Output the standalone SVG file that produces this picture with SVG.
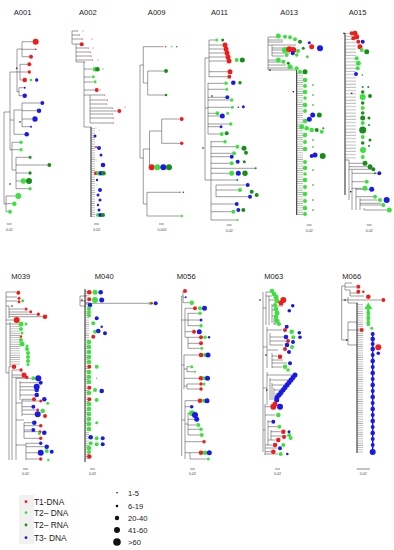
<svg xmlns="http://www.w3.org/2000/svg" width="394" height="550" viewBox="0 0 394 550">
<defs>
<style>
.t{fill:none;stroke:#3a3a3a;stroke-width:0.5}
.sp{fill:none;stroke:#222;stroke-width:1}
.r{fill:#f01c1c}.g{fill:#3ee03e}.d{fill:#178e17}.b{fill:#1a1ae8}.k{fill:#111}
.ti{font-family:"Liberation Sans",Arial,sans-serif;font-size:7.6px;fill:#222;text-anchor:middle}
.sc{font-family:"Liberation Sans",Arial,sans-serif;font-size:3.6px;fill:#444;text-anchor:middle}
.sb{stroke:#333;stroke-width:0.6}
.lg{font-family:"Liberation Sans",Arial,sans-serif;font-size:8.4px;fill:#222}
.ls{font-family:"Liberation Sans",Arial,sans-serif;font-size:7.6px;fill:#222}
</style>
<pattern id="comb" width="10" height="2.2" patternUnits="userSpaceOnUse"><line x1="0" y1="1" x2="10" y2="1" stroke="#555" stroke-width="0.45"/></pattern>
<pattern id="comb3" width="10" height="3.2" patternUnits="userSpaceOnUse"><line x1="0" y1="1" x2="10" y2="1" stroke="#555" stroke-width="0.45"/></pattern>
</defs>
<rect width="394" height="550" fill="#fff"/>

<g id="A001">
<text class="ti" x="22.5" y="14.5">A001</text>
<path class="t" d="M4 112V204M4 112H10M10 72V150M10 72H17M17 49V92M17 49H22M22 41.7V56.7M22 41.7H33M22 49.3H34.7M22 56.7H29M17 72H20M20 64.3V80M20 64.3H27.3M20 72H27.6M20 80H22.4M17 91.7H19M19 87.7V95.7M19 87.7H23.7M19 95.7H22.4M10 120H14M14 110V134.3M14 110H22M22 103V126.7M22 103H40.3M22 110.7H36.7M22 119H32.3M22 126.7H30M14 134.3H24.4M10 150H12M12 142.3V170M12 142.3H19.3M12 149.7H19.3M12 170H16M16 157.3V188.7M16 157.3H28.5M16 165H47.3M16 173H27.8M16 181H20.6M16 188.7H28.3M4 204H6M6 196V211.7M6 196H15.3M6 203.7H11.7M6 211.7H8"/>
<circle class="k" cx="16.7" cy="68.3" r="0.8"/><circle class="k" cx="20" cy="122" r="0.8"/><circle class="k" cx="10" cy="184" r="0.8"/>
<circle class="r" cx="35.7" cy="41.7" r="3"/><circle class="r" cx="35.7" cy="49.3" r="0.9"/><circle class="r" cx="31" cy="56.7" r="2"/><circle class="r" cx="29.3" cy="64.3" r="2"/><circle class="r" cx="29.3" cy="72" r="1.7"/>
<circle class="r" cx="24.7" cy="80" r="2.3"/><circle class="g" cx="31" cy="80" r="1.3"/><circle class="b" cx="36.7" cy="80" r="1.7"/>
<circle class="b" cx="24.7" cy="87.7" r="1"/><circle class="b" cx="24.7" cy="95.7" r="2.3"/><circle class="b" cx="42.3" cy="103" r="2"/><circle class="b" cx="39" cy="110.7" r="2.3"/><circle class="b" cx="35" cy="119" r="2.7"/><circle class="b" cx="31" cy="126.7" r="1"/><circle class="b" cx="26.7" cy="134.3" r="2.3"/>
<circle class="g" cx="21" cy="142.3" r="1.7"/><circle class="g" cx="21" cy="149.7" r="1.7"/><circle class="d" cx="30" cy="157.3" r="1.5"/><circle class="d" cx="49.3" cy="165" r="2"/><circle class="d" cx="30" cy="173" r="1.7"/>
<circle class="g" cx="23.3" cy="181" r="2.7"/><circle class="d" cx="29" cy="181" r="3"/><circle class="g" cx="30" cy="188.7" r="1.7"/><circle class="g" cx="18.3" cy="196" r="3"/><circle class="g" cx="14.3" cy="203.7" r="2.3"/><circle class="g" cx="10" cy="211.7" r="2"/>
<line class="sb" x1="6.7" y1="224" x2="11.7" y2="224"/><text class="sc" x="9.3" y="230.5">0.02</text>
</g>

<g id="A002">
<text class="ti" x="87.8" y="14.5">A002</text>
<path class="t" d="M72 31V44M72 31H77M72 35H79M72 39H82M72 44H80M76 44V62M76 48H88M76 52H90M76 56H91M76 60H92M76 62H84M84 62V127M84 69H92M84 77H91.5M84 82H93M84 90H94.5M84 95H104M90 95V123M90 100H107M90 104H106M90 108H112M90 111H117M90 114H112M90 118H113M90 123H113M84 127H91"/>
<path class="sp" d="M91 127V217"/>
<rect x="91" y="127" width="4" height="90" fill="url(#comb)"/>
<g class="r"><circle cx="77.5" cy="31" r="0.6"/><circle cx="79.5" cy="35" r="0.6"/><circle cx="82.5" cy="39" r="0.6"/><circle cx="88.5" cy="48" r="0.6"/><circle cx="90.5" cy="52" r="0.6"/><circle cx="91.5" cy="56" r="0.6"/><circle cx="92.5" cy="60" r="0.6"/><circle cx="84.5" cy="62" r="0.6"/><circle cx="104.5" cy="95" r="0.6"/><circle cx="107.5" cy="100" r="0.6"/><circle cx="106.5" cy="104" r="0.6"/><circle cx="112.5" cy="108" r="0.6"/><circle cx="112.5" cy="114" r="0.6"/><circle cx="113.5" cy="118" r="0.6"/><circle cx="113.5" cy="123" r="0.6"/><circle cx="103" cy="69" r="0.6"/><circle cx="125" cy="107" r="0.6"/><circle cx="83" cy="31" r="0.5"/><circle cx="92" cy="39" r="0.5"/><circle cx="93" cy="48" r="0.5"/><circle cx="98" cy="60" r="0.5"/><circle cx="100" cy="90" r="0.5"/>
<circle cx="81.7" cy="44.3" r="2"/><circle cx="96.7" cy="90" r="2"/><circle cx="119.3" cy="111" r="2"/></g>
<circle class="g" cx="95" cy="69.3" r="2.3"/><circle class="d" cx="97.5" cy="69.3" r="2.3"/><circle class="g" cx="93.3" cy="76.7" r="1.5"/><circle class="g" cx="95" cy="81.7" r="1.5"/>
<circle class="g" cx="96" cy="128" r="0.6"/><circle class="g" cx="99" cy="130" r="0.6"/><circle class="b" cx="95" cy="136" r="1.5"/><circle class="r" cx="96" cy="147" r="1"/><circle class="b" cx="99" cy="148" r="2"/><circle class="b" cx="101" cy="155" r="1.5"/><circle class="g" cx="96" cy="160" r="0.6"/><circle class="b" cx="103" cy="165" r="2.3"/>
<circle class="r" cx="96" cy="173.3" r="2"/><circle class="g" cx="98.5" cy="173.3" r="2.3"/><circle class="b" cx="101" cy="173.3" r="2.3"/><circle class="d" cx="103.5" cy="173.3" r="2.3"/>
<circle class="b" cx="97" cy="180" r="1.2"/><circle class="g" cx="97" cy="185" r="0.6"/><circle class="b" cx="100" cy="190" r="2"/><circle class="b" cx="98" cy="195" r="1.5"/><circle class="b" cx="100" cy="200" r="1.5"/><circle class="b" cx="98" cy="205" r="1.2"/><circle class="b" cx="99" cy="210" r="1.5"/>
<circle class="g" cx="98" cy="215" r="2"/><circle class="b" cx="100.5" cy="215" r="2"/><circle class="d" cx="103" cy="215" r="2"/>
<line class="sb" x1="94" y1="224" x2="99" y2="224"/><text class="sc" x="96.7" y="230.5">0.02</text>
</g>

<g id="A009">
<text class="ti" x="156.7" y="14.5">A009</text>
<path class="t" d="M140 65V158M140 65H143.3M143.3 46.7V83M143.3 46.7H163.5M143.3 83H147.7M147.7 71V95M147.7 71H164M147.7 95H164.7M140 158H143.3M143.3 149V204M143.3 149H149.5M149.5 131V167M149.5 131H161.7M161.7 119V143.3M161.7 119H179.7M161.7 143.3H180M143.3 204H147M147 192.3V216M147 192.3H179M147 216H180.3"/>
<circle class="r" cx="165.7" cy="46.7" r="0.8"/><circle class="g" cx="171.7" cy="46.7" r="0.8"/><circle class="d" cx="176.7" cy="46.7" r="0.8"/>
<circle class="d" cx="166" cy="71" r="2"/><circle class="d" cx="166" cy="95" r="1.3"/><circle class="r" cx="181.7" cy="119" r="2"/><circle class="r" cx="181.7" cy="143.3" r="1.7"/>
<circle class="r" cx="151.7" cy="167.3" r="3"/><circle class="g" cx="157.3" cy="167.3" r="3"/><circle class="b" cx="163.3" cy="167.3" r="3"/><circle class="d" cx="169" cy="167.3" r="3"/>
<circle class="d" cx="180" cy="192.3" r="0.8"/><circle class="b" cx="183.3" cy="192.3" r="0.8"/><circle class="g" cx="181.7" cy="216" r="1.2"/>
<line class="sb" x1="159" y1="224" x2="164" y2="224"/><text class="sc" x="162" y="230.5">0.002</text>
</g>

<g id="A011">
<text class="ti" x="219.5" y="14.5">A011</text>
<path class="t" d="M205 58V180M205 58H209M209 40V77M209 40H215M209 45H222.5M209 49H223.5M209 53H224.5M209 57H225.5M209 61H226.5M209 71.7H227.5M209 76.7H227.3M205 108H208M208 83V134M208 83.3H224M208 89.3H225M208 97.3H225M208 100H229.7M208 107.3H230.3M208 113.3H215.3M208 116H219.8M208 124H228.7M208 126.7H219.5M208 134H219.7M205 180H211M211 141V220M211 141.7H223M211 146.7H235.3M211 153.3H232M211 156.7H229.7M211 163.3H229.7M211 168.3H255M211 173.3H229.2M211 180H236.7M216 185V196.7M216 185H245.7M216 190H238M216 196.7H248M211 204H234.7M211 211.7H231.3M211 220H237"/>
<circle class="k" cx="203" cy="148" r="0.8"/><circle class="k" cx="212" cy="96" r="0.8"/>
<circle class="g" cx="216.7" cy="40" r="1.5"/><circle class="d" cx="222.7" cy="40" r="1.5"/>
<circle class="r" cx="225" cy="45" r="2.5"/><circle class="r" cx="226" cy="49" r="2.5"/><circle class="r" cx="227" cy="53" r="2.5"/><circle class="r" cx="228" cy="57" r="2.5"/><circle class="r" cx="229" cy="61" r="2.5"/><circle class="g" cx="236.7" cy="60" r="2"/><circle class="d" cx="242.3" cy="60" r="2.5"/>
<circle class="r" cx="230" cy="71.7" r="2.5"/><circle class="r" cx="229.3" cy="76.7" r="2"/>
<circle class="g" cx="226" cy="83.3" r="1.8"/><circle class="b" cx="233.3" cy="82.7" r="2.3"/><circle class="d" cx="240" cy="82.7" r="1.7"/>
<circle class="g" cx="226.7" cy="89.3" r="1.5"/><circle class="b" cx="227.3" cy="97.3" r="2"/><circle class="g" cx="231.7" cy="100" r="1.8"/>
<circle class="g" cx="232.3" cy="107.3" r="1.5"/><circle class="b" cx="238.3" cy="107.3" r="0.8"/><circle class="b" cx="243.3" cy="106.7" r="1.5"/>
<circle class="g" cx="217.3" cy="113.3" r="2"/><circle class="b" cx="222.3" cy="116" r="2.5"/><circle class="g" cx="227.7" cy="113.3" r="1.5"/>
<circle class="b" cx="221" cy="126.7" r="1.5"/><circle class="g" cx="230.7" cy="124" r="1.8"/><circle class="g" cx="221.7" cy="134" r="2"/><circle class="d" cx="226.7" cy="133.3" r="2"/>
<circle class="g" cx="225" cy="141.7" r="1.8"/><circle class="g" cx="237.3" cy="146.7" r="2"/><circle class="d" cx="244" cy="148.3" r="2.5"/><circle class="g" cx="234" cy="153.3" r="2"/><circle class="d" cx="246" cy="152.7" r="2"/>
<circle class="b" cx="231.7" cy="156.7" r="2"/><circle class="g" cx="231.7" cy="163.3" r="2"/><circle class="b" cx="237.7" cy="161.7" r="2"/><circle class="d" cx="244.3" cy="161.7" r="1.5"/><circle class="d" cx="255.7" cy="168.3" r="1"/>
<circle class="g" cx="231.7" cy="173.3" r="2.5"/><circle class="b" cx="238.3" cy="173.3" r="2.5"/><circle class="d" cx="245" cy="173.3" r="2.7"/><circle class="d" cx="237.3" cy="180" r="1"/>
<circle class="b" cx="247.7" cy="185" r="2"/><circle class="g" cx="240" cy="190" r="2"/><circle class="d" cx="251.7" cy="191.7" r="2"/><circle class="b" cx="250" cy="196.7" r="2"/><circle class="d" cx="256.7" cy="195" r="2"/>
<circle class="b" cx="236.7" cy="204" r="2"/><circle class="g" cx="233.3" cy="211.7" r="2"/><circle class="b" cx="238.3" cy="210" r="2"/><circle class="d" cx="243.3" cy="210" r="2"/><circle class="g" cx="237.7" cy="220" r="1"/>
<line class="sb" x1="226.7" y1="225" x2="231.7" y2="225"/><text class="sc" x="229.2" y="231.5">0.02</text>
</g>

<g id="A013">
<text class="ti" x="289.2" y="14.5">A013</text>
<path class="t" d="M268 37V70M268 37H276M268 40H283M268 42H283M268 45H296M272 45V56M272 48H283M272 50H287M272 53H290M272 56H284.5M268 60H276M268 62H281M268 65H286M268 68H294M268 70H296.7"/>
<path class="sp" d="M296.7 70V215"/>
<rect x="297" y="72" width="6" height="143" fill="url(#comb)"/>
<circle class="k" cx="270" cy="70" r="0.8"/><circle class="k" cx="293.3" cy="91.7" r="0.8"/>
<circle class="g" cx="278.3" cy="36" r="2.5"/><circle class="g" cx="285" cy="36.7" r="2"/><circle class="g" cx="290" cy="37.3" r="2"/><circle class="g" cx="295" cy="39.3" r="2"/><circle class="d" cx="300" cy="41.7" r="2"/><circle class="b" cx="309.3" cy="42.7" r="1.5"/>
<circle class="r" cx="311.7" cy="46.7" r="2.5"/><circle class="b" cx="320" cy="48.3" r="3"/><circle class="g" cx="285" cy="50" r="3"/><circle class="r" cx="289.3" cy="49.3" r="3"/><circle class="r" cx="293.3" cy="50" r="3"/><circle class="b" cx="292.7" cy="53.3" r="2"/><circle class="g" cx="286.7" cy="55" r="2"/><circle class="d" cx="303.3" cy="48.3" r="1.5"/><circle class="g" cx="298" cy="51" r="2"/><circle class="g" cx="296.7" cy="55" r="1.8"/><circle class="g" cx="307.3" cy="56.7" r="1.5"/>
<circle class="g" cx="278.3" cy="60" r="2.5"/><circle class="g" cx="283.3" cy="61.7" r="2"/><circle class="d" cx="288.3" cy="63.3" r="1.5"/><circle class="g" cx="290" cy="66.7" r="2.5"/><circle class="g" cx="296.7" cy="68.3" r="2"/><circle class="g" cx="300" cy="71.7" r="2"/><circle class="d" cx="305" cy="71.7" r="2.5"/>
<g class="g"><circle cx="305" cy="80" r="2.3"/><circle cx="305" cy="86" r="2"/><circle cx="305" cy="92" r="2.3"/><circle cx="305" cy="98" r="1.8"/><circle cx="305" cy="105" r="2.3"/><circle cx="305" cy="111" r="2"/><circle cx="305" cy="121" r="2.3"/><circle cx="305" cy="135" r="2.3"/><circle cx="305" cy="142" r="2"/><circle cx="305" cy="149" r="2.3"/><circle cx="305" cy="162" r="2"/><circle cx="305" cy="168" r="2.3"/><circle cx="305" cy="174" r="1.8"/><circle cx="305" cy="180" r="2.3"/><circle cx="305" cy="187" r="2"/><circle cx="305" cy="194" r="2.3"/><circle cx="305" cy="201" r="2"/><circle cx="305" cy="208" r="2.3"/><circle cx="305" cy="214" r="2"/></g>
<g class="d"><circle cx="313" cy="85" r="0.8"/><circle cx="313" cy="95" r="0.8"/><circle cx="313" cy="105" r="0.8"/><circle cx="313" cy="140" r="0.8"/><circle cx="313" cy="147" r="0.8"/><circle cx="313" cy="170" r="0.8"/><circle cx="313" cy="185" r="0.8"/><circle cx="313" cy="200" r="0.8"/><circle cx="313" cy="210" r="0.8"/></g>
<circle class="b" cx="312.7" cy="115" r="2.5"/><circle class="d" cx="319.3" cy="115" r="2.5"/><circle class="b" cx="309.3" cy="119.3" r="2.5"/>
<circle class="g" cx="301.7" cy="126.7" r="2.5"/><circle class="g" cx="306.7" cy="128.3" r="2.3"/><circle class="g" cx="311.7" cy="130" r="2.3"/><circle class="d" cx="316.7" cy="130" r="2"/><circle class="g" cx="321.7" cy="131.7" r="2"/><circle class="d" cx="323.3" cy="128.3" r="1"/>
<circle class="b" cx="311.7" cy="156" r="2"/><circle class="b" cx="315" cy="155" r="2.5"/><circle class="d" cx="322.7" cy="156" r="3"/>
<line class="sb" x1="306.7" y1="225" x2="311.7" y2="225"/><text class="sc" x="309.2" y="231.5">0.02</text>
</g>

<g id="A015">
<text class="ti" x="357.5" y="14.5">A015</text>
<path class="sp" d="M345 33V195"/>
<rect x="345" y="33" width="11" height="127" fill="url(#comb3)"/>
<path class="t" d="M345 160H349M349 160V200M349 163.3H362.5M349 166.7H367.5M349 169.3H371M352 170V210M352 173.3H377M352 181.7H364.7M352 188.3H362.5M356 188V210M356 189.3H369M356 196.7H373M360 198V210M360 200H377.5M360 203.3H381M360 205H384M364 208V210M364 210H386.8"/>
<circle class="k" cx="344" cy="33.3" r="0.8"/><circle class="k" cx="351.7" cy="93.3" r="0.8"/><circle class="k" cx="350.7" cy="191.7" r="0.8"/>
<circle class="r" cx="351.7" cy="33.3" r="2"/><circle class="r" cx="355" cy="33.3" r="2.5"/><circle class="r" cx="356.7" cy="36.7" r="2.5"/><circle class="r" cx="353.3" cy="38.3" r="2"/><circle class="r" cx="358.3" cy="41.7" r="2"/><circle class="b" cx="362.7" cy="41.7" r="2"/><circle class="r" cx="360" cy="46.7" r="2.5"/><circle class="g" cx="361.7" cy="50" r="2"/><circle class="d" cx="366.7" cy="51.7" r="2.5"/>
<circle class="g" cx="356.7" cy="58.3" r="2"/><circle class="g" cx="358.3" cy="63.3" r="2.5"/><circle class="g" cx="357.7" cy="68.3" r="2"/><circle class="b" cx="356" cy="74" r="2"/><circle class="d" cx="362.3" cy="75" r="0.8"/>
<circle class="d" cx="362.7" cy="87" r="1"/><circle class="d" cx="362.7" cy="92" r="1.8"/><circle class="g" cx="362.7" cy="97" r="3"/><circle class="d" cx="362.7" cy="103" r="1.8"/><circle class="g" cx="362.7" cy="108" r="2"/><circle class="d" cx="362.7" cy="113" r="1.8"/><circle class="d" cx="362.7" cy="118" r="2.5"/><circle class="g" cx="362.7" cy="123" r="2"/><circle class="d" cx="362.7" cy="130" r="3.5"/><circle class="g" cx="362.7" cy="137" r="2"/><circle class="d" cx="362.7" cy="143" r="1.8"/><circle class="g" cx="363" cy="150" r="3"/><circle class="g" cx="362.7" cy="157" r="2"/>
<circle class="d" cx="368.3" cy="87" r="1"/><circle class="d" cx="370" cy="96" r="2"/><circle class="d" cx="369" cy="118" r="1.5"/><circle class="d" cx="369" cy="125" r="1"/><circle class="d" cx="370" cy="140" r="1.5"/><circle class="d" cx="369" cy="146" r="1"/>
<circle class="d" cx="365" cy="163.3" r="2.5"/><circle class="d" cx="370" cy="166.7" r="2.5"/><circle class="d" cx="373.3" cy="169.3" r="2"/><circle class="d" cx="375" cy="173.3" r="1"/><circle class="b" cx="379.3" cy="173.3" r="2"/><circle class="g" cx="366.7" cy="181.7" r="2"/><circle class="g" cx="365" cy="188.3" r="2.5"/><circle class="b" cx="371.7" cy="189.3" r="2.5"/><circle class="g" cx="375" cy="196.7" r="2"/><circle class="g" cx="380" cy="200" r="2"/><circle class="b" cx="386.7" cy="200" r="3"/><circle class="g" cx="383.3" cy="205" r="2"/><circle class="g" cx="389.3" cy="210" r="2.5"/>
<line class="sb" x1="366.7" y1="225" x2="371.7" y2="225"/><text class="sc" x="369.2" y="231.5">0.02</text>
</g>

<g id="M039">
<text class="ti" x="20.8" y="278.5">M039</text>
<path class="t" d="M6 292V373M6 292H16M6 297H17M6 301H17M6 306H9M9 306V318M9 309H24M9 312H28.5M9 314.3H36M9 316.7H42.7M6 320H13.7M6 324H10M10 322V366M10 324H18.5M6 373H9M9 366.7V460M9 366.7H11.7M12 370V460M12 370H19M12 375H21.5M12 377.3H25M16 378V460M16 378.3H31M20 381V400M20 382.7H38.7M20 386.7H33.7M20 390H34.4M20 395H34.4M16 403H22M22 399V416M22 399.3H32M22 401H39M22 406.7H31.3M22 410H36M22 414.3H34.7M16 420H24M24 422.7V438M24 422.7H32M24 425.7H39M24 430H31.3M24 431.7H38.5M24 438.3H39M16 445H26M26 443V460M26 443.3H39M26 446.7H44.4M26 452.7H37.7M26 459H39"/>
<rect x="10" y="326" width="10" height="40" fill="url(#comb)"/>
<circle class="k" cx="12" cy="306" r="0.8"/>
<circle class="r" cx="18.3" cy="292.7" r="2"/><circle class="r" cx="19" cy="298.3" r="1.5"/><circle class="r" cx="19" cy="301.7" r="1.5"/><circle class="g" cx="22.7" cy="300.7" r="1.5"/><circle class="r" cx="26" cy="309" r="1.5"/><circle class="r" cx="30.7" cy="311.7" r="1.5"/><circle class="r" cx="38.3" cy="314.3" r="1.7"/><circle class="r" cx="45" cy="316.7" r="2.3"/>
<circle class="r" cx="16.7" cy="320" r="3"/><circle class="g" cx="21" cy="324" r="2.5"/><circle class="g" cx="26" cy="324" r="1.5"/>
<circle class="g" cx="21" cy="329" r="2"/><circle class="g" cx="22" cy="333" r="1.5"/><circle class="r" cx="21" cy="336.5" r="1.3"/><circle class="g" cx="21" cy="340" r="2"/><circle class="g" cx="22" cy="344" r="2.5"/><circle class="g" cx="27" cy="346" r="1.5"/><circle class="g" cx="27" cy="349" r="2"/><circle class="g" cx="28" cy="353" r="2"/><circle class="g" cx="28" cy="357" r="2"/><circle class="g" cx="28" cy="361" r="2"/><circle class="g" cx="28" cy="364.5" r="1.5"/>
<circle class="r" cx="14" cy="366.7" r="2.3"/><circle class="r" cx="21" cy="370" r="1.7"/><circle class="r" cx="24" cy="375" r="2.5"/><circle class="r" cx="26.7" cy="377.3" r="1.7"/><circle class="g" cx="33.3" cy="378.3" r="2"/><circle class="b" cx="38.3" cy="378.3" r="3"/><circle class="b" cx="40.7" cy="382.7" r="2"/><circle class="b" cx="36.7" cy="386.7" r="3"/><circle class="b" cx="36.7" cy="390" r="2.3"/><circle class="b" cx="36.7" cy="395" r="2.3"/>
<circle class="r" cx="34" cy="399.3" r="2"/><circle class="b" cx="44.3" cy="399.3" r="2.3"/><circle class="r" cx="40.7" cy="401" r="1.5"/><circle class="g" cx="47.7" cy="403.3" r="1.5"/>
<circle class="b" cx="33.3" cy="406.7" r="2"/><circle class="r" cx="37.7" cy="410" r="1.5"/><circle class="g" cx="42.7" cy="411" r="2.3"/><circle class="b" cx="37.7" cy="414.3" r="3"/><circle class="r" cx="45" cy="416" r="2"/>
<circle class="b" cx="34.3" cy="422.7" r="2.3"/><circle class="r" cx="40.7" cy="425.7" r="1.8"/><circle class="b" cx="33.3" cy="430" r="2"/><circle class="r" cx="40" cy="431.7" r="1.5"/><circle class="g" cx="39.3" cy="433.5" r="1.5"/><circle class="b" cx="44.3" cy="432.7" r="2.3"/>
<circle class="r" cx="40.7" cy="438.3" r="1.7"/><circle class="b" cx="40.7" cy="443.3" r="1.7"/><circle class="b" cx="46.7" cy="446.7" r="2.3"/><circle class="g" cx="46.7" cy="451" r="2"/><circle class="b" cx="40.7" cy="452.7" r="3"/><circle class="b" cx="51.7" cy="451.7" r="2"/><circle class="r" cx="40.7" cy="459" r="1.7"/><circle class="g" cx="48.3" cy="460" r="1.2"/>
<line class="sb" x1="23" y1="469" x2="28" y2="469"/><text class="sc" x="25.5" y="475">0.02</text>
</g>

<g id="M040">
<text class="ti" x="104.2" y="278.5">M040</text>
<path class="t" d="M80 296V306M80 296H87M80 301H86M80 306H86M85 303.3H148.5"/>
<path class="sp" d="M85 289V462"/>
<rect x="85" y="290" width="4" height="170" fill="url(#comb)"/>
<circle class="k" cx="82" cy="300" r="0.8"/>
<circle class="r" cx="89.3" cy="292.3" r="2.3"/><circle class="g" cx="95" cy="292.3" r="2.5"/><circle class="b" cx="100.7" cy="292.3" r="2.3"/>
<circle class="r" cx="89.3" cy="299.3" r="2"/><circle class="g" cx="95" cy="300" r="3"/><circle class="b" cx="101.7" cy="300" r="2.5"/>
<circle class="g" cx="150" cy="303.3" r="1.5"/><circle class="r" cx="151.7" cy="303.3" r="1.2"/><circle class="b" cx="155.7" cy="303.3" r="2"/>
<circle class="b" cx="90" cy="305" r="2.3"/><circle class="g" cx="89" cy="308.5" r="2"/><circle class="g" cx="89" cy="312" r="2"/><circle class="g" cx="89" cy="315.5" r="2"/>
<circle class="b" cx="96.7" cy="318.3" r="2"/><circle class="g" cx="93.3" cy="323.3" r="2"/><circle class="b" cx="101.7" cy="326.7" r="1.2"/><circle class="g" cx="95" cy="331.7" r="2"/><circle class="b" cx="98.3" cy="331" r="2.3"/><circle class="b" cx="105" cy="333.3" r="2"/><circle class="r" cx="93.3" cy="336.7" r="2"/>
<g class="g"><circle cx="89" cy="342" r="2.3"/><circle cx="89" cy="347" r="2.3"/><circle cx="89" cy="352" r="2.3"/><circle cx="89" cy="357" r="2.3"/><circle cx="89" cy="362" r="2.3"/><circle cx="89" cy="372" r="2.3"/><circle cx="89" cy="377" r="2.3"/><circle cx="89" cy="382" r="2.3"/><circle cx="89" cy="393" r="2.3"/><circle cx="89" cy="404" r="2.3"/><circle cx="89" cy="409" r="2.3"/><circle cx="89" cy="414" r="2.3"/><circle cx="89" cy="419" r="2.3"/><circle cx="89" cy="424" r="2.3"/><circle cx="89" cy="429" r="2.3"/><circle cx="89" cy="448" r="2.3"/><circle cx="89" cy="452" r="2"/></g>
<circle class="r" cx="89.3" cy="366.7" r="2"/><circle class="g" cx="96.7" cy="366.7" r="2"/><circle class="g" cx="96.7" cy="378.3" r="0.8"/><circle class="r" cx="89.3" cy="387.7" r="2"/><circle class="g" cx="95" cy="390" r="2"/><circle class="b" cx="101.7" cy="391" r="2.3"/><circle class="r" cx="89.3" cy="399.3" r="2"/><circle class="g" cx="96.7" cy="400" r="2"/><circle class="g" cx="96.7" cy="422.7" r="1.5"/>
<circle class="b" cx="90.7" cy="437.3" r="2.3"/><circle class="g" cx="96.7" cy="438.3" r="2"/><circle class="b" cx="102.7" cy="438.3" r="2"/><circle class="g" cx="90.7" cy="443.3" r="2"/><circle class="g" cx="96.7" cy="444.3" r="2"/><circle class="b" cx="102.7" cy="444.3" r="2"/><circle class="r" cx="89.3" cy="456.5" r="2.3"/>
<line class="sb" x1="90" y1="469" x2="95" y2="469"/><text class="sc" x="92.5" y="475">0.02</text>
</g>

<g id="M056">
<text class="ti" x="186.3" y="278.5">M056</text>
<path class="t" d="M181.7 296V456M181.7 296H183M183 291V302.7M183 291H183M183 297.3H184.5M183 302.7H189.4M181.7 320H185M185 308.3V337M185 308.3H193M188 313V326M185 320H188M188 313.3H198M188 320H199.5M188 325.7H199M185 331.7H192M185 337.3H188M188 337.3V348.3M188 337.3H199M188 343.3H199M188 348.3H199.7M181.7 365H184M184 355V389M184 355H199M184 369H187M187 366.7V372M187 366.7H190M187 371.7H194M184 378.3H199M184 386H187M187 384V389M187 384H199M187 389H199M181.7 420H185M185 400.7V459M185 400.7H198M185 406.7H190M185 424H188M188 413V435M188 413.3H190.3M188 419.3H194M188 425H196M188 429.3H199.5M188 435H200M185 441.7H202.3M185 452.7H199M190 452.7V459M190 459H206.5"/>
<circle class="r" cx="185" cy="291" r="2"/><circle class="b" cx="185.7" cy="297.3" r="1"/><circle class="g" cx="191.7" cy="302.7" r="2.3"/>
<circle class="r" cx="195" cy="308.3" r="2"/><circle class="g" cx="200" cy="308.3" r="2"/><circle class="b" cx="204.5" cy="308.3" r="2.5"/>
<circle class="g" cx="200" cy="313.3" r="1.8"/><circle class="b" cx="201" cy="320" r="1.5"/><circle class="g" cx="201" cy="325.7" r="1.8"/>
<circle class="r" cx="194" cy="331.7" r="2"/><circle class="b" cx="199.3" cy="331.7" r="2.5"/><circle class="r" cx="201" cy="337.3" r="2"/><circle class="g" cx="205" cy="337.3" r="1.8"/><circle class="b" cx="209" cy="337.3" r="1.2"/>
<circle class="r" cx="201" cy="343.3" r="2"/><circle class="g" cx="201.7" cy="348.3" r="1.5"/><circle class="r" cx="201" cy="355" r="2.3"/><circle class="g" cx="205" cy="355" r="2"/><circle class="b" cx="208" cy="355" r="2.5"/>
<circle class="g" cx="191.7" cy="366.7" r="1.5"/><circle class="g" cx="195" cy="371.7" r="1"/>
<circle class="r" cx="201" cy="378.3" r="2.3"/><circle class="g" cx="204.5" cy="378.3" r="2"/><circle class="b" cx="207.5" cy="378.3" r="2.5"/><circle class="r" cx="201" cy="384" r="1.8"/><circle class="g" cx="204" cy="384" r="1.5"/><circle class="r" cx="201" cy="389" r="1.8"/>
<circle class="r" cx="200" cy="400.7" r="2.3"/><circle class="g" cx="204" cy="400.7" r="2"/><circle class="b" cx="207" cy="400.7" r="2.5"/>
<circle class="b" cx="191.7" cy="406.7" r="1.8"/><circle class="g" cx="192" cy="413.3" r="3"/><circle class="b" cx="195" cy="415" r="3"/><circle class="b" cx="196.7" cy="419.3" r="2.5"/><circle class="g" cx="198.3" cy="425" r="2"/><circle class="g" cx="201" cy="429.3" r="1.8"/><circle class="g" cx="201.7" cy="435" r="2"/><circle class="r" cx="204" cy="441.7" r="1.8"/>
<circle class="r" cx="201" cy="452.7" r="2.3"/><circle class="g" cx="205" cy="452.7" r="2.3"/><circle class="b" cx="209.3" cy="452.7" r="2.5"/><circle class="g" cx="208.3" cy="459" r="1.5"/>
<line class="sb" x1="190" y1="469" x2="195" y2="469"/><text class="sc" x="192.5" y="475">0.02</text>
</g>

<g id="M063">
<text class="ti" x="273.7" y="278.5">M063</text>
<path class="t" d="M263 292V452M263 308H266M266 292V325M266 292H270M266 296H272M269 296V325M269 300H278M272 304V323M272 306H283M272 310H276M272 316H277M274 318V325M274 320H276M274 324H277M263 347H267M267 327V368M267 330H282M270 333V345M270 337H284M270 341H286M270 345H283M267 350H278M272 353V368M272 356H277M272 360H283M272 363H287M272 367H282M263 388H267M267 372V405M267 375H293M270 378V400M270 380H291M272 383V400M272 385H289M274 388V400M274 390H286M276 393V400M276 395H283M263 430H265M265 404V455M265 406.7H270M265 415H275.5M268 420V445M268 421.7H271M268 426.7H277M271 430V440M271 431.7H280.5M271 436H287.5M268 440H275.5M265 445H272M265 448H277.5M265 451.7H271M265 454H278"/>
<circle class="k" cx="260" cy="300" r="0.8"/><circle class="k" cx="266" cy="355" r="0.8"/><circle class="k" cx="266.7" cy="390" r="0.8"/>
<g class="g"><circle cx="272" cy="291" r="2.3"/><circle cx="274" cy="294" r="2.3"/><circle cx="276" cy="297" r="2.5"/><circle cx="277" cy="301" r="2.5"/><circle cx="275" cy="305" r="2"/><circle cx="276" cy="309" r="2.3"/><circle cx="277" cy="313" r="2.5"/><circle cx="276" cy="317" r="2.3"/><circle cx="277" cy="321" r="2.5"/><circle cx="279" cy="324" r="2"/></g>
<circle class="r" cx="283.3" cy="300" r="3"/><circle class="r" cx="281" cy="303" r="2.5"/><circle class="b" cx="292.7" cy="305.7" r="1.8"/><circle class="b" cx="289.3" cy="310.7" r="1.8"/>
<circle class="b" cx="286.7" cy="326.7" r="2"/><circle class="r" cx="285" cy="330" r="2"/><circle class="g" cx="291.7" cy="331.7" r="2.3"/><circle class="b" cx="299.3" cy="332.7" r="1.8"/><circle class="b" cx="300" cy="337.3" r="1.8"/><circle class="g" cx="293.3" cy="337.3" r="2"/>
<circle class="b" cx="286" cy="337" r="2.3"/><circle class="r" cx="288" cy="341" r="2"/><circle class="b" cx="293" cy="342" r="2"/><circle class="b" cx="287" cy="345" r="2.3"/><circle class="g" cx="292" cy="347" r="2"/><circle class="r" cx="285" cy="349" r="2"/><circle class="b" cx="289" cy="352" r="2"/>
<circle class="r" cx="280" cy="356.7" r="2.3"/><circle class="b" cx="290" cy="363.3" r="2"/><circle class="g" cx="285" cy="366.7" r="2.3"/><circle class="g" cx="288" cy="370" r="1.8"/>
<g class="b"><circle cx="295" cy="375" r="2.5"/><circle cx="293" cy="377.5" r="2.5"/><circle cx="291" cy="380" r="2.5"/><circle cx="289" cy="382.5" r="2.5"/><circle cx="287" cy="385" r="2.5"/><circle cx="285" cy="387.5" r="2.5"/><circle cx="283" cy="390" r="2.5"/><circle cx="281" cy="392.5" r="2.5"/><circle cx="279" cy="395" r="2.5"/><circle cx="277" cy="397.5" r="2.5"/><circle cx="276.7" cy="400" r="2.5"/></g>
<circle class="r" cx="275" cy="404" r="2.5"/><circle class="r" cx="273.3" cy="406.7" r="3"/><circle class="b" cx="280" cy="406.7" r="3"/>
<circle class="g" cx="278.3" cy="415" r="2.3"/><circle class="b" cx="273.3" cy="421.7" r="2"/><circle class="g" cx="279.3" cy="426.7" r="2"/><circle class="r" cx="283.3" cy="431.7" r="2.3"/><circle class="b" cx="289" cy="431.7" r="1.5"/><circle class="g" cx="289.3" cy="435" r="2"/><circle class="g" cx="290.7" cy="438" r="2"/><circle class="r" cx="284" cy="437" r="2"/>
<circle class="r" cx="278.3" cy="440" r="2.3"/><circle class="r" cx="275" cy="445" r="2.3"/><circle class="g" cx="283.3" cy="445" r="2"/><circle class="b" cx="280" cy="448.3" r="2"/><circle class="r" cx="273.3" cy="451.7" r="2.3"/><circle class="g" cx="280.7" cy="454" r="2"/><circle class="b" cx="287.3" cy="454" r="1.3"/>
<line class="sb" x1="275" y1="469" x2="280" y2="469"/><text class="sc" x="277.5" y="475">0.02</text>
</g>

<g id="M066">
<text class="ti" x="351.7" y="278.5">M066</text>
<path class="t" d="M341.7 286V340M341.7 286H345M345 283V290M345 283H352M345 287H356M345 290H350M350 290V296M350 293H358M350 296H364M341.7 300H381M348 297V303M348 303H358M341.7 340H348M348 322V345M348 322H357M348 330H359.5M348 345H357"/>
<path class="sp" d="M357 303V453"/>
<rect x="357" y="303" width="6" height="150" fill="url(#comb)"/>
<circle class="k" cx="345" cy="300" r="0.8"/><circle class="k" cx="346.7" cy="340" r="0.8"/>
<circle class="r" cx="358.3" cy="286.7" r="2"/><circle class="r" cx="358.3" cy="291.7" r="2"/><circle class="r" cx="363.3" cy="291.7" r="1.3"/><circle class="r" cx="368.3" cy="296.7" r="2.3"/><circle class="r" cx="383.3" cy="300" r="2"/>
<polygon points="368.3,302.5 364.3,309 372.3,309" fill="#3ee03e"/>
<line x1="368.3" y1="306" x2="368.3" y2="326" stroke="#3ee03e" stroke-width="2.6"/>
<g class="g"><circle cx="368.3" cy="313" r="2"/><circle cx="368.3" cy="318" r="2"/><circle cx="368.3" cy="323" r="2"/></g>
<circle class="r" cx="361.7" cy="330" r="2"/><circle class="g" cx="371.7" cy="328.3" r="1.5"/>
<line x1="372.7" y1="332" x2="372.7" y2="452" stroke="#1a1ae8" stroke-width="1.5"/>
<g class="b"><circle cx="372.7" cy="334" r="2"/><circle cx="372.7" cy="339" r="2.3"/><circle cx="372.7" cy="344" r="2"/><circle cx="372.7" cy="349" r="2.3"/><circle cx="372.7" cy="355" r="2"/><circle cx="372.7" cy="361" r="2.3"/><circle cx="372.7" cy="367" r="2"/><circle cx="372.7" cy="373" r="2.3"/><circle cx="372.7" cy="379" r="2"/><circle cx="372.7" cy="385" r="2.3"/><circle cx="372.7" cy="391" r="2"/><circle cx="372.7" cy="397" r="2.3"/><circle cx="372.7" cy="403" r="2"/><circle cx="372.7" cy="409" r="2.3"/><circle cx="372.7" cy="415" r="2"/><circle cx="372.7" cy="421" r="2.3"/><circle cx="372.7" cy="427" r="2"/><circle cx="372.7" cy="433" r="2.3"/><circle cx="372.7" cy="439" r="2"/><circle cx="372.7" cy="445" r="2"/><circle cx="372.7" cy="452" r="3"/></g>
<circle class="r" cx="378.3" cy="347.3" r="3"/><circle class="b" cx="378.3" cy="353.3" r="1.8"/>
<line class="sb" x1="356.7" y1="469" x2="370" y2="469"/><text class="sc" x="363.3" y="475">0.02</text>
</g>

<g id="legend">
<rect x="19" y="495" width="15" height="49" fill="#f1f1f1"/>
<circle class="r" cx="26" cy="501.7" r="1.4"/><text class="lg" x="34" y="504.6">T1-DNA</text>
<circle class="g" cx="26" cy="512.7" r="1.4"/><text class="lg" x="34" y="515.6">T2– DNA</text>
<circle class="d" cx="26" cy="525" r="1.4"/><text class="lg" x="34" y="527.9">T2– RNA</text>
<circle class="b" cx="26" cy="537.7" r="1.4"/><text class="lg" x="34" y="540.6">T3- DNA</text>
<circle class="k" cx="117" cy="492.7" r="0.8"/><text class="ls" x="128" y="495.5">1-5</text>
<circle class="k" cx="117" cy="506" r="1.3"/><text class="ls" x="128" y="508.8">6-19</text>
<circle class="k" cx="117" cy="518" r="2.2"/><text class="ls" x="128" y="520.8">20-40</text>
<circle class="k" cx="117" cy="530" r="3"/><text class="ls" x="128" y="532.8">41-60</text>
<circle class="k" cx="117" cy="542" r="3.8"/><text class="ls" x="128" y="544.8">&gt;60</text>
</g>
</svg>
